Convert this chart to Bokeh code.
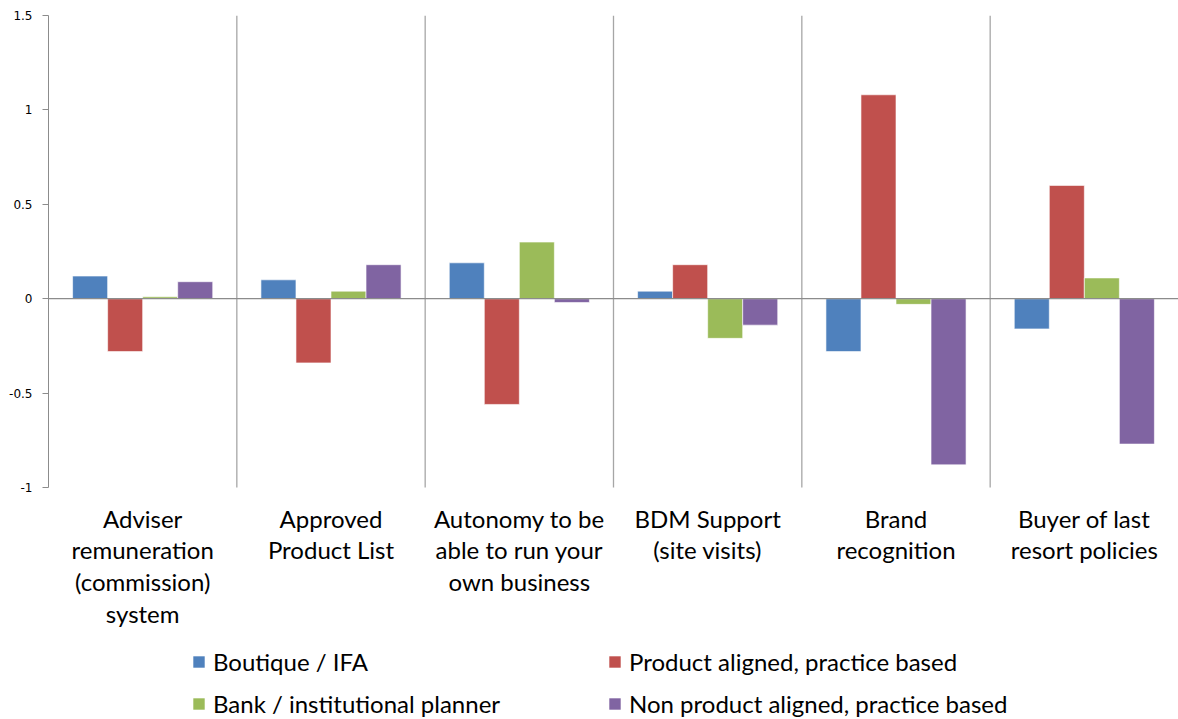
from bokeh.plotting import figure
from bokeh.models import FactorRange, Range1d, Span, Legend, LegendItem, ColumnDataSource, FixedTicker
from bokeh.core.properties import value
from bokeh.transform import dodge
from bokeh.embed import file_html
from bokeh.resources import INLINE

# Categories and series scores
categories = [
    "Adviser\nremuneration\n(commission)\nsystem",
    "Approved\nProduct List",
    "Autonomy to be\nable to run your\nown business",
    "BDM Support\n(site visits)",
    "Brand\nrecognition",
    "Buyer of last\nresort policies",
]
boutique = [0.12, 0.10, 0.19, 0.04, -0.28, -0.16]
product_aligned = [-0.28, -0.34, -0.56, 0.18, 1.08, 0.60]
bank = [0.01, 0.04, 0.30, -0.21, -0.03, 0.11]
non_product = [0.09, 0.18, -0.02, -0.14, -0.88, -0.77]

series_names = [
    "Boutique / IFA",
    "Product aligned, practice based",
    "Bank / institutional planner",
    "Non product aligned, practice based",
]
colors = ["#4F81BD", "#C0504D", "#9BBB59", "#8064A2"]
y_ticks = [-1, -0.5, 0, 0.5, 1, 1.5]

y_min, y_max = y_ticks[0], y_ticks[-1]
px_per_unit = 188.8
frame_top, axis_bottom_px, page_h = 15, 487, 719
# the frame runs to the page bottom so category labels and legend sit inside it
y_floor = y_min - (page_h - axis_bottom_px) / px_per_unit
label_y = y_min - 16 / px_per_unit

src = ColumnDataSource(dict(cat=categories, s0=boutique, s1=product_aligned,
                            s2=bank, s3=non_product))

p = figure(width=1178, height=page_h, x_range=FactorRange(*categories),
           y_range=Range1d(y_floor, y_max), output_backend="svg", toolbar_location=None,
           x_axis_location=None,
           min_border_left=48, min_border_right=0, min_border_top=frame_top,
           min_border_bottom=0)
p.outline_line_color = None
p.xgrid.grid_line_color = None
p.ygrid.grid_line_color = None

bar_w = 0.186
offsets = [-1.5 * bar_w, -0.5 * bar_w, 0.5 * bar_w, 1.5 * bar_w]
renderers = []
for i, (off, col) in enumerate(zip(offsets, colors)):
    r = p.vbar(x=dodge("cat", off, range=p.x_range), top=f"s{i}", bottom=0,
               width=bar_w, source=src, fill_color=col, line_color="white",
               line_alpha=0.6, line_width=1)
    renderers.append(r)

# category separators between groups, spanning the value axis
bounds = list(range(1, len(categories)))
p.segment(x0=bounds, x1=bounds, y0=[y_min] * len(bounds), y1=[y_max] * len(bounds),
          line_color="#A6A6A6", line_width=1.3)
p.add_layout(Span(location=0, dimension="width", line_color="#8C8C8C", line_width=1.3))

# category labels under the value axis
p.text(x=categories, y=[label_y] * len(categories), text=categories,
       text_align="center", text_baseline="top", text_font=value("Lato"),
       text_font_size="24px", text_color="#000000", text_line_height=1.1)

# y axis
p.yaxis.ticker = FixedTicker(ticks=y_ticks)
p.yaxis.bounds = (y_min, y_max)
p.yaxis.major_label_overrides = {-1: "-1", -0.5: "-0.5", 0: "0", 0.5: "0.5", 1: "1", 1.5: "1.5"}
p.yaxis.axis_line_color = "#8C8C8C"
p.yaxis.major_tick_line_color = "#8C8C8C"
p.yaxis.major_tick_out = 6
p.yaxis.major_tick_in = 0
p.yaxis.minor_tick_line_color = None
p.yaxis.major_label_text_font = "DejaVu Sans"
p.yaxis.major_label_text_font_size = "12px"
p.yaxis.major_label_text_color = "#000000"
p.yaxis.major_label_standoff = 10

legend = Legend(
    items=[LegendItem(label=n, renderers=[r]) for n, r in zip(series_names, renderers)],
    ncols=2, location=(143, 1), orientation="horizontal",
    glyph_width=15, glyph_height=15, label_standoff=7, spacing=13,
    label_width=381, label_height=29, padding=0, margin=0,
    border_line_color=None, background_fill_alpha=0,
    label_text_font="Lato", label_text_font_size="24px", label_text_color="#000000",
)
p.add_layout(legend, "center")

open("out.html", "w").write(file_html(p, INLINE))
